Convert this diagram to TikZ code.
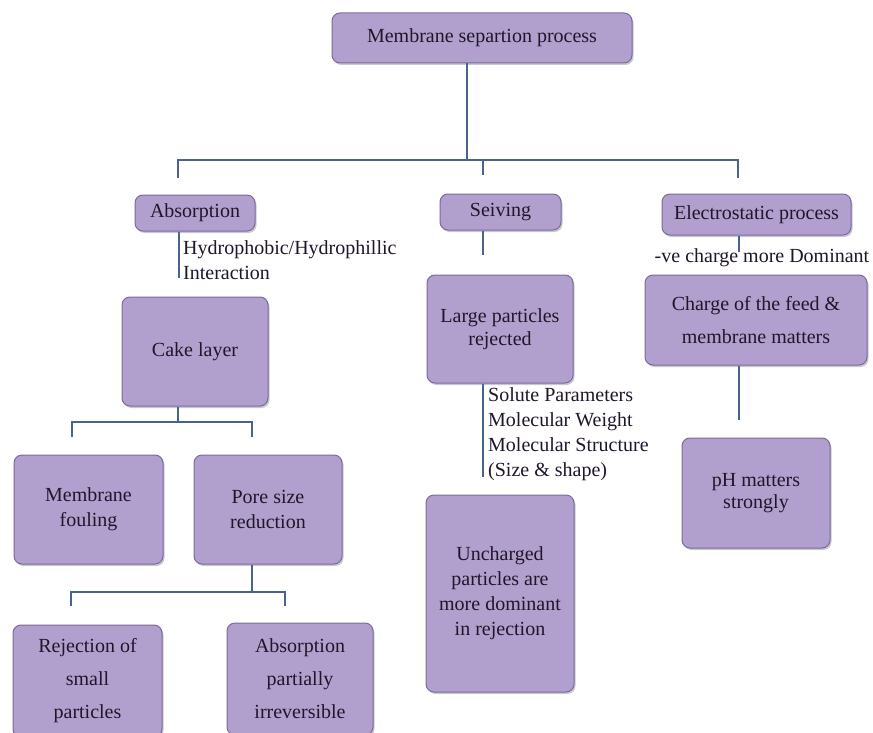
\documentclass[tikz,border=0pt]{standalone}
\usepackage{fontspec}
\setmainfont{Liberation Serif}
\usetikzlibrary{shadows}
\definecolor{boxfill}{RGB}{177,160,206}
\definecolor{boxdraw}{RGB}{122,106,160}
\definecolor{linec}{RGB}{70,100,140}
\definecolor{txt}{RGB}{32,22,42}
\begin{document}
\begin{tikzpicture}[x=1pt,y=-1pt,
  box/.style={draw=boxdraw, line width=1pt, fill=boxfill, rounded corners=8pt,
    align=center, inner sep=2pt, text=txt,
    font=\fontsize{20}{25}\selectfont,
    drop shadow={shadow xshift=1.5pt, shadow yshift=-2pt, fill=black!60, opacity=0.35}},
  wide/.style={font=\fontsize{20}{33}\selectfont},
  conn/.style={draw=linec, line width=2.6pt, line join=miter},
  note/.style={text=txt, font=\fontsize{20}{25}\selectfont, align=left, inner sep=0pt}]
\useasboundingbox (0,0) rectangle (873,733);
\fill[white] (0,0) rectangle (873,733);

% boxes
\node[box, minimum width=300pt, minimum height=50pt] (top) at (482,38) {Membrane separtion process};
\node[box, minimum width=120pt, minimum height=36pt] (abs) at (195,213) {Absorption};
\node[box, minimum width=121pt, minimum height=36pt] (seiv) at (500.5,212) {Seiving};
\node[box, minimum width=189pt, minimum height=41pt] (elec) at (756.5,214.5) {Electrostatic process};
\node[box, minimum width=146pt, minimum height=109pt] (cake) at (195,351.5) {Cake layer};
\node[box, font=\fontsize{20}{23}\selectfont, minimum width=146pt, minimum height=108pt] (large) at (500,329) {Large particles\\rejected};
\node[box, wide, minimum width=222pt, minimum height=90pt] (charge) at (756,320) {Charge of the feed \&\\membrane matters};
\node[box, minimum width=149pt, minimum height=109pt] (foul) at (88.5,509.5) {Membrane\\fouling};
\node[box, minimum width=148pt, minimum height=109pt] (pore) at (268,509.5) {Pore size\\reduction};
\node[box, minimum width=148pt, minimum height=197pt] (unch) at (500,593.5) {Uncharged\\particles are\\more dominant\\in rejection};
\node[box, font=\fontsize{20}{22}\selectfont, minimum width=148pt, minimum height=110pt] (ph) at (756,493) {pH matters\\strongly};
\node[box, wide, minimum width=149pt, minimum height=112pt] (rej) at (87.5,681) {Rejection of\\small\\particles};
\node[box, wide, minimum width=146pt, minimum height=112pt] (absp) at (300,679) {Absorption\\partially\\irreversible};

% notes
\node[note, anchor=north west] (hyd) at (183,240) {Hydrophobic/Hydrophillic\\Interaction};
\node[note, anchor=center] (neg) at (762,258) {-ve charge more Dominant};
\node[note, anchor=north west] (sol) at (488,387) {Solute Parameters\\Molecular Weight\\Molecular Structure\\(Size \& shape)};

% free ends
\coordinate (t0) at (467,160);
\coordinate (tl) at (178,178);
\coordinate (tm) at (483,175);
\coordinate (tr) at (738,178);
\coordinate (a1) at (179,278);
\coordinate (s1) at (483,255);
\coordinate (e1) at (739,252);
\coordinate (c0) at (178,422);
\coordinate (cl) at (72,437);
\coordinate (cr) at (252,437);
\coordinate (l1) at (483,477);
\coordinate (g1) at (739,420);
\coordinate (p0) at (252,592);
\coordinate (pl) at (71,606);
\coordinate (pr) at (285,606);

% connectors
\draw[conn] (top.south -| t0) -- (t0);
\draw[conn] (tl) -- (tl |- t0) -- (tr |- t0) -- (tr);
\draw[conn] (tm |- t0) -- (tm);
\draw[conn] (abs.south -| a1) -- (a1);
\draw[conn] (seiv.south -| s1) -- (s1);
\draw[conn] (elec.south -| e1) -- (e1);
\draw[conn] (cake.south -| c0) -- (c0);
\draw[conn] (cl) -- (cl |- c0) -- (cr |- c0) -- (cr);
\draw[conn] (large.south -| l1) -- (l1);
\draw[conn] (charge.south -| g1) -- (g1);
\draw[conn] (pore.south -| p0) -- (p0);
\draw[conn] (pl) -- (pl |- p0) -- (pr |- p0) -- (pr);
\end{tikzpicture}
\end{document}
